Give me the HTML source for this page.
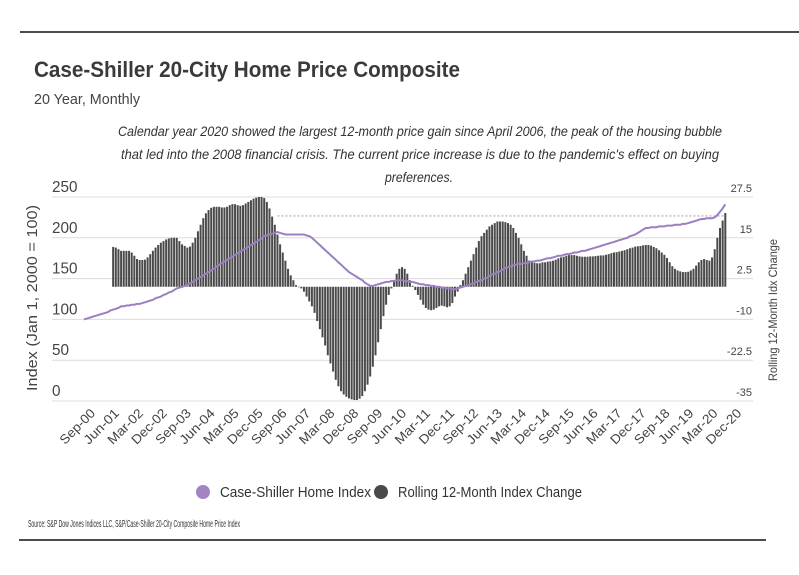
<!DOCTYPE html>
<html><head><meta charset="utf-8">
<style>
html,body{margin:0;padding:0;background:#fff;}
svg{display:block;font-family:"Liberation Sans",sans-serif;}
</style></head>
<body>
<svg id="chart" width="799" height="575" viewBox="0 0 799 575" xmlns="http://www.w3.org/2000/svg">
<rect width="799" height="575" fill="#fff"/>
<line x1="20" y1="32" x2="799" y2="32" stroke="#111" stroke-width="1.5"/>
<text x="34" y="77" font-size="22" font-weight="bold" fill="#3a3a3a" textLength="426" lengthAdjust="spacingAndGlyphs">Case-Shiller 20-City Home Price Composite</text>
<text x="34" y="104" font-size="15" fill="#444" textLength="106" lengthAdjust="spacingAndGlyphs">20 Year, Monthly</text>
<g font-size="14" font-style="italic" fill="#333">
<text x="118" y="136" textLength="604" lengthAdjust="spacingAndGlyphs">Calendar year 2020 showed the largest 12-month price gain since April 2006, the peak of the housing bubble</text>
<text x="121" y="159" textLength="598" lengthAdjust="spacingAndGlyphs">that led into the 2008 financial crisis. The current price increase is due to the pandemic's effect on buying</text>
<text x="385" y="182" textLength="68" lengthAdjust="spacingAndGlyphs">preferences.</text>
</g>
<g id="grid"></g>
<g id="bars"></g>
<line id="refline" stroke="#aaa" stroke-width="1.2" stroke-dasharray="2,2"/>
<polyline id="line" fill="none" stroke="#9b7fc0" stroke-width="2"/>
<g id="yl" font-size="16" fill="#444"></g>
<g id="yr" font-size="11" fill="#444" text-anchor="end"></g>
<g id="xl" font-size="13" fill="#444" text-anchor="end"></g>
<text transform="translate(37,298) rotate(-90)" font-size="15" fill="#444" text-anchor="middle" textLength="186" lengthAdjust="spacingAndGlyphs">Index (Jan 1, 2000 = 100)</text>
<text transform="translate(777,310) rotate(-90)" font-size="12" fill="#444" text-anchor="middle" textLength="142" lengthAdjust="spacingAndGlyphs">Rolling 12-Month Idx Change</text>
<g font-size="15" fill="#333">
<circle cx="203" cy="492" r="7" fill="#a383c4"/>
<text x="220" y="497" textLength="151" lengthAdjust="spacingAndGlyphs">Case-Shiller Home Index</text>
<circle cx="381" cy="492" r="7" fill="#4a4a4a"/>
<text x="398" y="497" textLength="184" lengthAdjust="spacingAndGlyphs">Rolling 12-Month Index Change</text>
</g>
<text x="28" y="527" font-size="10" fill="#333" textLength="212" lengthAdjust="spacingAndGlyphs">Source:  S&amp;P Dow Jones Indices LLC, S&amp;P/Case-Shiller 20-City Composite Home Price Index</text>
<line x1="19" y1="540" x2="766" y2="540" stroke="#111" stroke-width="1.5"/>
</svg>
<script>
const startYear = 2000, startMonth = 8; // Sep-2000
const indexValues = [100,101,102,103,104,105,106,107,108,109,111,112,113,114,116,
116,117,117,118,118,119,119,120,
121,122,123,124,126,127,128,130,131,133,134,136,138,
139,140,141,142,144,146,148,150,152,154,156,158,160,162,165,
167,169,171,173,175,177,179,181,183,185,187,189,191,193,195,197,199,202,
203,204,205,206,207,206,205,204,204,204,204,204,204,204,204,
203,202,200,197,194,191,188,185,182,179,176,173,170,167,164,161,158,156,154,152,150,148,145,143,141,
141,142,143,144,145,146,146,147,147,148,148,148,
147,147,146,146,145,144,143,143,142,142,141,141,140,140,139,139,138,138,137,137,
138,139,140,141,142,143,144,146,147,148,150,151,153,155,156,158,159,161,163,164,165,166,167,168,168,169,169,170,
171,171,172,172,173,174,175,175,176,177,178,178,179,180,180,181,182,182,183,184,184,185,
186,187,188,189,190,191,192,193,194,195,196,197,198,199,200,202,203,204,206,208,210,212,
212,213,213,213,214,214,214,215,215,215,216,216,216,
217,217,218,219,220,221,222,223,223,224,224,224,225,228,232,236,241];
const changeValues = [null,null,null,null,null,null,null,null,null,null,null,
12.2,12,11.5,11,11,11,11,10.5,9.5,8.5,8.2,
8.2,8.3,9,10,11,12,12.8,13.5,14,14.5,14.8,15,15,15,
14,13,12.5,12,12.3,
13.5,15,17,19,21,22.5,23.5,24.2,24.5,24.5,
24.5,24.3,24.3,24.5,25,25.3,25.3,25,24.8,25,25.5,26,26.5,27,27.3,27.5,27.5,27.2,
26,24,21.5,19,16,13,10.5,8,5.5,3.5,2,0.5,
0,
-0.5,-1.5,-3,-4.5,-6,-8,-10.5,-13,-15.5,-18,-21,-23.5,-26,-28.5,-30.5,-32,-33,-33.7,-34.2,-34.5,-34.7,-34.7,
-34.3,-33.5,-32,-30,-27.5,-24.5,-21,-17,-13,-9,-5.5,-2.5,-0.5,
2,4,5.5,6,5.5,4,2,0.3,
-1,-2.5,-4,-5.5,-6.5,-7,-7.2,-7,-6.5,-6,-5.8,-6,-6.3,-6,-5,-3,-1.5,
0.5,2,4,6,8,10,12,14,15.5,16.5,17.5,18.5,19,19.5,20,20,20,19.8,19.5,19,
18,16.5,15,13,11,9.5,8,7.5,7.3,
7.2,7.2,7.5,7.5,7.7,7.8,8,8.3,8.7,9,9.2,9.5,9.7,
9.7,9.7,9.5,9.3,9.2,9.2,9.2,9.3,9.3,9.4,9.5,9.6,9.6,9.8,10,10.3,
10.5,10.6,10.8,11,11.2,11.5,11.8,12,12.3,12.4,12.5,12.7,12.8,12.8,12.6,
12.2,11.8,11.2,10.5,9.8,8.8,7.5,6.3,5.5,5,4.7,4.5,
4.5,4.6,5,5.5,6.5,7.5,8.2,8.5,8.2,8,9,11.5,15,18,20.3,22.6];
const leftTicks = [0,50,100,150,200,250];
const rightTicks = [-35,-22.5,-10,2.5,15,27.5];
const referenceLevel = 21.7;
const referenceStart = 73;
const labelEvery = 9;
const monthNames = ["Jan","Feb","Mar","Apr","May","Jun","Jul","Aug","Sep","Oct","Nov","Dec"];

const NS = "http://www.w3.org/2000/svg";
const X0 = 84, DX = 2.65, plotL = 52, plotR = 753, yTop = 197, yBot = 401;
const n = indexValues.length;
function xAt(i){ return X0 + i * DX; }
function yLeft(v){ return yBot - (v - 0) / 250 * (yBot - yTop); }
function yRight(v){ return yBot - (v + 35) / 62.5 * (yBot - yTop); }
function mk(tag, attrs, parent){ const e = document.createElementNS(NS, tag); for (const k in attrs) e.setAttribute(k, attrs[k]); parent.appendChild(e); return e; }

const grid = document.getElementById('grid');
const yl = document.getElementById('yl');
leftTicks.forEach(t => {
  const y = yLeft(t);
  const g = mk('line', {x1: plotL, x2: plotR, y1: y, y2: y, stroke: '#dcdcdc', 'stroke-width': 1}, grid);
  
  
  const tx = mk('text', {x: 52, y: y - 5}, yl);
  tx.textContent = t;
  
  
  tx.setAttribute('textLength', String(t).length * 8.5);
  tx.setAttribute('lengthAdjust', 'spacingAndGlyphs');
});
const yr = document.getElementById('yr');
rightTicks.forEach(t => {
  const tx = mk('text', {x: 752, y: yRight(t) - 5}, yr);
  tx.textContent = t;
  
  
});

const bars = document.getElementById('bars');
const y0 = yRight(0);
changeValues.forEach((v, i) => {
  if (v === null) return;
  const y = yRight(v);
  const r = mk('rect', {x: xAt(i) - 1, width: 2, y: Math.min(y, y0), height: Math.max(0.5, Math.abs(y - y0)), fill: '#4a4a4a'}, bars);
  
  
});

const ref = document.getElementById('refline');
ref.setAttribute('x1', xAt(referenceStart));
ref.setAttribute('x2', xAt(n - 1));
ref.setAttribute('y1', yRight(referenceLevel));
ref.setAttribute('y2', yRight(referenceLevel));

document.getElementById('line').setAttribute('points', indexValues.map((v, i) => xAt(i).toFixed(1) + ',' + yLeft(v).toFixed(1)).join(' '));

const xl = document.getElementById('xl');
const labelStep = (xAt(n - 1) + 5 - X0) / Math.ceil((n - 1) / labelEvery);
for (let k = 0, i = 0; i <= n; i += labelEvery, k++) {
  const m = (startMonth + i) % 12, yr2 = startYear + Math.floor((startMonth + i) / 12);
  const lbl = monthNames[m] + '-' + String(yr2 % 100).padStart(2, '0');
  const x = X0 + k * labelStep + 12, y = 414;
  const tx = mk('text', {transform: 'translate(' + x.toFixed(1) + ',' + y + ') rotate(-45)'}, xl);
  tx.textContent = lbl;
  
  
  tx.setAttribute('textLength', 44);
  tx.setAttribute('lengthAdjust', 'spacingAndGlyphs');
}
</script>
</body></html>
